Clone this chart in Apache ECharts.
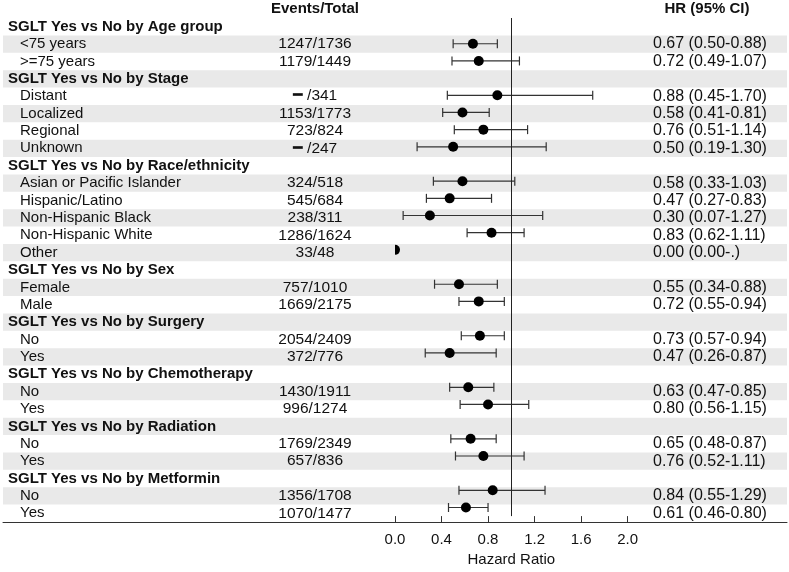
<!DOCTYPE html>
<html>
<head>
<meta charset="utf-8">
<script src="https://cdn.jsdelivr.net/npm/echarts@6/dist/echarts.min.js"></script>
<style>
html,body{margin:0;padding:0;background:#fff;}
#chart{width:789px;height:572px;}
</style>
</head>
<body>
<div id="chart"></div>
<script>
const labels = [
  'SGLT Yes vs No by Age group', '<75 years', '>=75 years',
  'SGLT Yes vs No by Stage', 'Distant', 'Localized', 'Regional', 'Unknown',
  'SGLT Yes vs No by Race/ethnicity', 'Asian or Pacific Islander', 'Hispanic/Latino', 'Non-Hispanic Black', 'Non-Hispanic White', 'Other',
  'SGLT Yes vs No by Sex', 'Female', 'Male',
  'SGLT Yes vs No by Surgery', 'No', 'Yes',
  'SGLT Yes vs No by Chemotherapy', 'No', 'Yes',
  'SGLT Yes vs No by Radiation', 'No', 'Yes',
  'SGLT Yes vs No by Metformin', 'No', 'Yes'
];
const headerRows = [0, 3, 8, 14, 17, 20, 23, 26];
const events = [
  '', '1247/1736', '1179/1449',
  '', '━ /341', '1153/1773', '723/824', '━ /247',
  '', '324/518', '545/684', '238/311', '1286/1624', '33/48',
  '', '757/1010', '1669/2175',
  '', '2054/2409', '372/776',
  '', '1430/1911', '996/1274',
  '', '1769/2349', '657/836',
  '', '1356/1708', '1070/1477'
];
const hr = [
  null, 0.67, 0.72,
  null, 0.88, 0.58, 0.76, 0.50,
  null, 0.58, 0.47, 0.30, 0.83, 0.00,
  null, 0.55, 0.72,
  null, 0.73, 0.47,
  null, 0.63, 0.80,
  null, 0.65, 0.76,
  null, 0.84, 0.61
];
const ciLow = [
  null, 0.50, 0.49,
  null, 0.45, 0.41, 0.51, 0.19,
  null, 0.33, 0.27, 0.07, 0.62, null,
  null, 0.34, 0.55,
  null, 0.57, 0.26,
  null, 0.47, 0.56,
  null, 0.48, 0.52,
  null, 0.55, 0.46
];
const ciHigh = [
  null, 0.88, 1.07,
  null, 1.70, 0.81, 1.14, 1.30,
  null, 1.03, 0.83, 1.27, 1.11, null,
  null, 0.88, 0.94,
  null, 0.94, 0.87,
  null, 0.85, 1.15,
  null, 0.87, 1.11,
  null, 1.29, 0.80
];
const hrText = [
  '', '0.67 (0.50-0.88)', '0.72 (0.49-1.07)',
  '', '0.88 (0.45-1.70)', '0.58 (0.41-0.81)', '0.76 (0.51-1.14)', '0.50 (0.19-1.30)',
  '', '0.58 (0.33-1.03)', '0.47 (0.27-0.83)', '0.30 (0.07-1.27)', '0.83 (0.62-1.11)', '0.00 (0.00-.)',
  '', '0.55 (0.34-0.88)', '0.72 (0.55-0.94)',
  '', '0.73 (0.57-0.94)', '0.47 (0.26-0.87)',
  '', '0.63 (0.47-0.85)', '0.80 (0.56-1.15)',
  '', '0.65 (0.48-0.87)', '0.76 (0.52-1.11)',
  '', '0.84 (0.55-1.29)', '0.61 (0.46-0.80)'
];
const xMin = 0, xMax = 2.0, xInterval = 0.4;
const refValue = 1;
const colHeaders = ['Events/Total', 'HR (95% CI)'];
const axisName = 'Hazard Ratio';

const FONT = 'Liberation Sans';
const rowIdx = labels.map((_, i) => String(i));

const chart = echarts.init(document.getElementById('chart'), null, {renderer: 'canvas'});

const bandData = labels.map((_, i) => [0, i]).filter(d => d[1] % 2 === 1);
const textData = labels.map((_, i) => [0, i]);
const forestData = [];
hr.forEach((v, i) => { if (v !== null) forestData.push([v, i, ciLow[i], ciHigh[i]]); });

const option = {
  animation: false,
  grid: [
    {left: 3, right: 2, top: 18, height: 504},
    {left: 395, width: 232.6, top: 18, height: 504}
  ],
  xAxis: [
    {gridIndex: 0, type: 'value', min: 0, max: 1, show: true,
     axisLine: {show: true, lineStyle: {color: '#333', width: 1}},
     axisTick: {show: false}, axisLabel: {show: false}, splitLine: {show: false}},
    {gridIndex: 1, type: 'value', min: xMin, max: xMax, interval: xInterval,
     axisLine: {show: false},
     axisTick: {show: true, length: 6, lineStyle: {color: '#333'}},
     axisLabel: {margin: 16, color: '#111', fontFamily: FONT, fontSize: 15,
                 formatter: v => v.toFixed(1)},
     splitLine: {show: false},
     name: axisName, nameLocation: 'middle', nameGap: 33,
     nameTextStyle: {color: '#111', fontFamily: FONT, fontSize: 15}}
  ],
  yAxis: [
    {gridIndex: 0, type: 'category', data: rowIdx, inverse: true, show: false},
    {gridIndex: 1, type: 'category', data: rowIdx, inverse: true, show: false}
  ],
  graphic: [
    {type: 'text', x: 315, y: 9, style: {text: colHeaders[0], fontFamily: FONT, fontSize: 15, fontWeight: 'bold', fill: '#111', align: 'center', verticalAlign: 'middle'}},
    {type: 'text', x: 707, y: 9, style: {text: colHeaders[1], fontFamily: FONT, fontSize: 15, fontWeight: 'bold', fill: '#111', align: 'center', verticalAlign: 'middle'}}
  ],
  series: [
    {
      type: 'custom', xAxisIndex: 0, yAxisIndex: 0, z: 1, silent: true,
      data: bandData,
      renderItem: (params, api) => {
        const c = api.coord([0, api.value(1)]);
        const h = api.size([0, 1])[1];
        return {type: 'rect', shape: {x: params.coordSys.x, y: c[1] - h / 2, width: params.coordSys.width, height: h},
                style: {fill: '#e9e9e9'}};
      }
    },
    {
      type: 'custom', xAxisIndex: 0, yAxisIndex: 0, z: 3, silent: true,
      data: textData,
      renderItem: (params, api) => {
        const i = api.value(1);
        const c = api.coord([0, i]);
        const isHeader = headerRows.indexOf(i) >= 0;
        const children = [{
          type: 'text', x: isHeader ? 8 : 20, y: c[1],
          style: {text: labels[i], fontFamily: FONT, fontSize: 15, fontWeight: isHeader ? 'bold' : 'normal',
                  fill: '#111', align: 'left', verticalAlign: 'middle'}
        }];
        if (events[i]) children.push({
          type: 'text', x: 315, y: c[1],
          style: {text: events[i], fontFamily: FONT, fontSize: 15.5, fill: '#111', align: 'center', verticalAlign: 'middle'}
        });
        if (hrText[i]) children.push({
          type: 'text', x: 653, y: c[1],
          style: {text: hrText[i], fontFamily: FONT, fontSize: 16, fill: '#111', align: 'left', verticalAlign: 'middle'}
        });
        return {type: 'group', children};
      }
    },
    {
      type: 'custom', xAxisIndex: 1, yAxisIndex: 1, z: 4, clip: true, silent: true,
      data: forestData,
      encode: {x: 0, y: 1},
      renderItem: (params, api) => {
        const v = api.value(0), i = api.value(1), lo = api.value(2), hi = api.value(3);
        const p = api.coord([v, i]);
        const children = [];
        const cap = 4.5;
        if (!isNaN(lo) && !isNaN(hi) && lo !== null && hi !== null) {
          const a = api.coord([lo, i]), b = api.coord([hi, i]);
          const ls = {stroke: '#333', lineWidth: 1.2};
          children.push({type: 'line', shape: {x1: a[0], y1: a[1], x2: b[0], y2: b[1]}, style: ls});
          children.push({type: 'line', shape: {x1: a[0], y1: a[1] - cap, x2: a[0], y2: a[1] + cap}, style: ls});
          children.push({type: 'line', shape: {x1: b[0], y1: b[1] - cap, x2: b[0], y2: b[1] + cap}, style: ls});
        }
        children.push({type: 'circle', shape: {cx: p[0], cy: p[1], r: 5}, style: {fill: '#000'}});
        return {type: 'group', children};
      },
      markLine: {
        silent: true, symbol: 'none', label: {show: false},
        lineStyle: {color: '#222', width: 1, type: 'solid'},
        data: [{xAxis: refValue}]
      }
    }
  ]
};
chart.setOption(option);
</script>
</body>
</html>
